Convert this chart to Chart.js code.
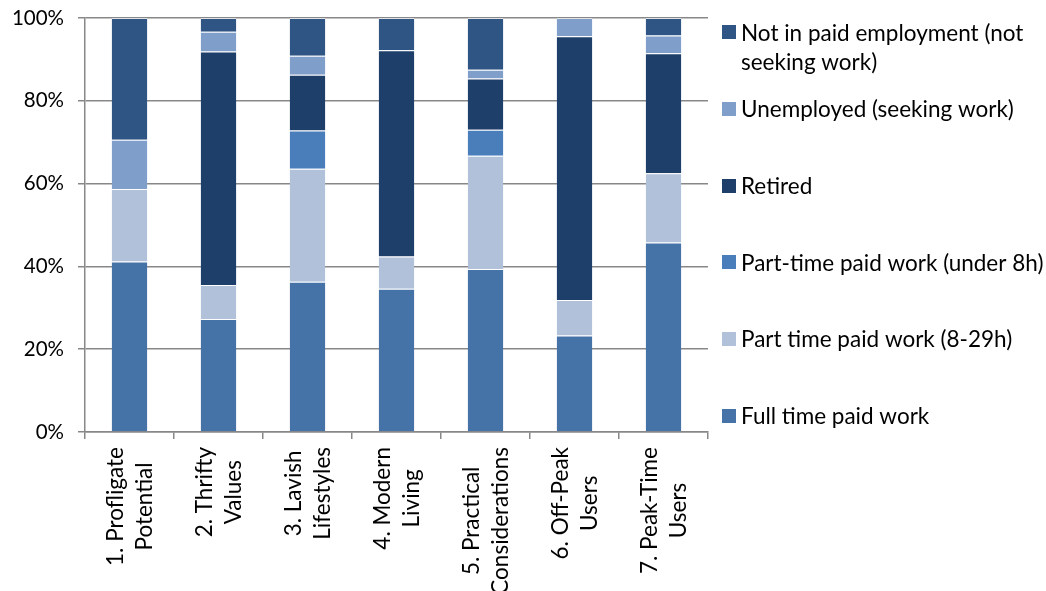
<!DOCTYPE html>
<html>
<head>
<meta charset="utf-8">
<script src="https://cdn.jsdelivr.net/npm/chart.js@4.4.1/dist/chart.umd.min.js"></script>
<style>
  html, body { margin: 0; padding: 0; background: #ffffff; }
  #wrap { position: relative; width: 1046px; height: 591px; }
</style>
</head>
<body>
<div id="wrap"><canvas id="c" width="1046" height="591"></canvas></div>
<script>
// ---- Data (percent of each segment group) ----
const categories = [
  ["1. Profligate", "Potential"],
  ["2. Thrifty", "Values"],
  ["3. Lavish", "Lifestyles"],
  ["4. Modern", "Living"],
  ["5. Practical", "Considerations"],
  ["6. Off-Peak", "Users"],
  ["7. Peak-Time", "Users"]
];
const seriesNames = [
  "Full time paid work",
  "Part time paid work (8-29h)",
  "Part-time paid work (under 8h)",
  "Retired",
  "Unemployed (seeking work)",
  "Not in paid employment (not seeking work)"
];
const legendLines = [
  ["Full time paid work"],
  ["Part time paid work (8-29h)"],
  ["Part-time paid work (under 8h)"],
  ["Retired"],
  ["Unemployed (seeking work)"],
  ["Not in paid employment (not", "seeking work)"]
];
const fullTime       = [41.2, 27.3, 36.3, 34.6, 39.4, 23.3, 45.8];
const partTime829    = [17.5,  8.2, 27.3,  7.8, 27.3,  8.6, 16.7];
const partTimeUnder8 = [ 0.0,  0.0,  9.2,  0.0,  6.3,  0.0,  0.0];
const retired        = [ 0.0, 56.4, 13.5, 49.8, 12.4, 63.7, 29.0];
const unemployed     = [11.9,  4.8,  4.6,  0.0,  2.1,  4.4,  4.3];
const notInPaid      = [29.4,  3.3,  9.1,  7.8, 12.5,  0.0,  4.2];
const yTicks = [0, 20, 40, 60, 80, 100];

const colors = ["#4673A7", "#B0C1D9", "#4A7EBB", "#1F3F6B", "#7F9FCA", "#2F5584"];
const seriesValues = [fullTime, partTime829, partTimeUnder8, retired, unemployed, notInPaid];

const FONT = "Lato, 'Open Sans', sans-serif";

const datasets = seriesValues.map((vals, i) => ({
  label: seriesNames[i],
  data: vals,
  backgroundColor: colors[i],
  borderColor: "rgba(255,255,255,0.55)",
  borderWidth: { top: 1, bottom: 0, left: 0, right: 0 },
  borderSkipped: false,
  barPercentage: 0.4,
  categoryPercentage: 1.0
}));

const customDraw = {
  id: "customDraw",
  afterDraw(chart) {
    const ctx = chart.ctx;
    const xs = chart.scales.x;
    ctx.save();
    ctx.fillStyle = "#000";
    const linePitch = 29.4;
    // x category labels, rotated, centred lines, block top fixed
    ctx.font = "22.5px " + FONT;
    const topY = 447;
    categories.forEach((lines, i) => {
      const cx = xs.getPixelForValue(i);
      const W = Math.max(...lines.map(l => ctx.measureText(l).width));
      const cy = topY + W / 2;
      lines.forEach((line, k) => {
        const off = (k - (lines.length - 1) / 2) * linePitch;
        ctx.save();
        ctx.translate(cx + off + 1, cy);
        ctx.rotate(-Math.PI / 2);
        ctx.textAlign = "center";
        ctx.textBaseline = "middle";
        ctx.fillText(line, 0, 0);
        ctx.restore();
      });
    });
    // legend on the right, reversed order
    ctx.font = "22.5px " + FONT;
    const legX = 722, sq = 14, textX = 741;
    const firstY = 32.3, stepY = 76.7;
    ctx.textAlign = "left";
    ctx.textBaseline = "middle";
    for (let j = 0; j < seriesNames.length; j++) {
      const si = seriesNames.length - 1 - j;
      const y = firstY + j * stepY;
      ctx.fillStyle = colors[si];
      ctx.fillRect(legX, Math.round(y - sq / 2), sq, sq);
      ctx.fillStyle = "#000";
      legendLines[si].forEach((line, k) => {
        ctx.fillText(line, textX, y + k * linePitch + 1);
      });
    }
    ctx.restore();
  }
};

new Chart(document.getElementById("c"), {
  type: "bar",
  data: { labels: categories.map(c => c.join(" ")), datasets },
  options: {
    responsive: false,
    animation: false,
    events: [],
    layout: { padding: { left: 0, top: 18, right: 338, bottom: 0 } },
    plugins: { legend: { display: false }, tooltip: { enabled: false } },
    scales: {
      x: {
        stacked: true,
        offset: true,
        grid: {
          offset: true,
          drawOnChartArea: false,
          drawTicks: true,
          tickLength: 7,
          color: "#888888",
          lineWidth: 1.5
        },
        border: { display: true, color: "#888888", width: 1.5 },
        ticks: { display: false },
        afterFit(scale) {
          scale.height = 591 - 432;
          scale.paddingLeft = 0; scale.paddingRight = 0;
        }
      },
      y: {
        stacked: true,
        min: 0,
        max: 100,
        afterBuildTicks(scale) { scale.ticks = yTicks.map(v => ({ value: v })); },
        ticks: {
          callback: v => v + "%",
          color: "#000",
          font: { family: FONT, size: 20.5 },
          padding: 14
        },
        grid: {
          color: "#888888",
          lineWidth: 1.5,
          drawTicks: true,
          tickLength: 7
        },
        border: { display: true, color: "#888888", width: 1.5 },
        afterFit(scale) {
          scale.width = 85;
          scale.paddingTop = 0; scale.paddingBottom = 0;
        }
      }
    }
  },
  plugins: [customDraw]
});
</script>
</body>
</html>
